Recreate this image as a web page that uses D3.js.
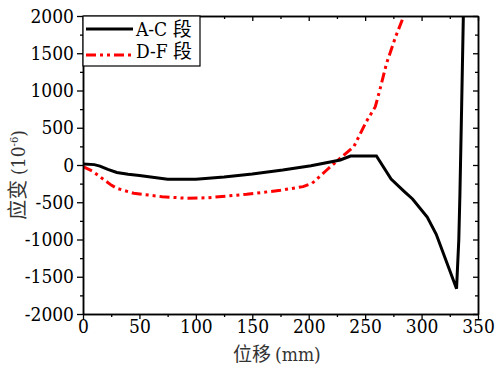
<!DOCTYPE html>
<html>
  <head>
  <meta charset="utf-8">
  <title>应变-位移</title>
  <style>
    body, html { margin: 0; padding: 0; background: #fff; }
  </style>
  </head>
  <body>

  <svg id="svg" width="503" height="371"></svg>

  <script src="https://d3js.org/d3.v7.min.js"></script>
  <script>
    // A-C 段 (black, solid)
    const acX = [0, 10, 15, 22, 30, 40, 50, 60, 75, 100, 125, 150, 177, 202, 228, 237, 260, 273, 285, 292, 305, 313, 331, 333, 334, 335.5, 337, 339]
    const acY = [15, 5, -15, -60, -100, -125, -140, -160, -190, -190, -160, -120, -67, -9, 67, 120, 120, -188, -360, -456, -700, -930, -1660, -1000, -380, 780, 1990, 2600]
    // D-F 段 (red, dash-dot-dot)
    const dfX = [0, 8, 15, 25, 30, 45, 70, 92, 110, 145, 175, 195, 203, 216, 226, 240, 251, 259, 263, 269, 277, 284, 290]
    const dfY = [-20, -80, -157, -270, -313, -380, -425, -447, -440, -393, -340, -290, -246, -67, 67, 246, 581, 782, 1007, 1365, 1722, 1990, 2300]

    const xTicks = [0, 50, 100, 150, 200, 250, 300, 350]
    const yTicks = [-2000, -1500, -1000, -500, 0, 500, 1000, 1500, 2000]
    const seriesNames = ['A-C 段', 'D-F 段']

    const serif = 'DejaVu Serif Condensed, DejaVu Serif, Noto Sans CJK SC'
    const cjk = 'Noto Sans CJK SC'

    const margin = { top: 16, right: 25, bottom: 57, left: 83 }
    const width = 503 - margin.left - margin.right
    const height = 371 - margin.top - margin.bottom

    const svg = d3.select('#svg')
    const g = svg.append('g').attr('transform', `translate(${margin.left}, ${margin.top})`)

    const x = d3.scaleLinear().domain([0, 350]).range([0, width])
    const y = d3.scaleLinear().domain([-2000, 2000]).range([height, 0])

    g.append('clipPath').attr('id', 'clip')
      .append('rect').attr('width', width).attr('height', height)

    const line = d3.line().x(d => x(d[0])).y(d => y(d[1]))

    const plot = g.append('g').attr('clip-path', 'url(#clip)')
    plot.append('path')
      .datum(dfX.map((v, i) => [v, dfY[i]]))
      .attr('d', line)
      .attr('fill', 'none')
      .attr('stroke', '#ff0000')
      .attr('stroke-width', 3)
      .attr('stroke-dasharray', '10,4,3,4,3,4')
    plot.append('path')
      .datum(acX.map((v, i) => [v, acY[i]]))
      .attr('d', line)
      .attr('fill', 'none')
      .attr('stroke', '#000')
      .attr('stroke-width', 3)

    // axes
    const minorX = d3.range(25, 350, 50)
    const minorY = d3.range(-1750, 2000, 500)
    const fmt = d => String(d)

    function styleAxis(sel) {
      sel.attr('font-family', serif).attr('font-size', 19).attr('font-stretch', 'condensed')
      sel.select('.domain').attr('stroke', '#000').attr('stroke-width', 1.5)
      sel.selectAll('.tick line').attr('stroke', '#000').attr('stroke-width', 1.3)
      sel.selectAll('text').attr('fill', '#000')
    }

    g.append('g').attr('transform', `translate(0, ${height})`)
      .call(d3.axisBottom(x).tickValues(xTicks).tickFormat(fmt).tickSize(5).tickPadding(1).tickSizeOuter(0))
      .call(styleAxis)
    g.append('g').attr('transform', `translate(0, ${height})`)
      .call(d3.axisBottom(x).tickValues(minorX).tickSize(3).tickFormat('').tickSizeOuter(0))
      .call(styleAxis)
    g.append('g')
      .call(d3.axisTop(x).tickValues(xTicks).tickSize(-5).tickFormat('').tickSizeOuter(0))
      .call(styleAxis)
    g.append('g')
      .call(d3.axisTop(x).tickValues(minorX).tickSize(-3).tickFormat('').tickSizeOuter(0))
      .call(styleAxis)

    g.append('g')
      .call(d3.axisLeft(y).tickValues(yTicks).tickFormat(fmt).tickSize(6).tickPadding(3).tickSizeOuter(0))
      .call(styleAxis)
    g.append('g')
      .call(d3.axisLeft(y).tickValues(minorY).tickSize(3).tickFormat('').tickSizeOuter(0))
      .call(styleAxis)
    g.append('g').attr('transform', `translate(${width}, 0)`)
      .call(d3.axisRight(y).tickValues(yTicks).tickSize(-5).tickFormat('').tickSizeOuter(0))
      .call(styleAxis)
    g.append('g').attr('transform', `translate(${width}, 0)`)
      .call(d3.axisRight(y).tickValues(minorY).tickSize(-3).tickFormat('').tickSizeOuter(0))
      .call(styleAxis)

    // axis titles
    const xl = svg.append('text')
      .attr('x', 233)
      .attr('y', 361)
      .attr('fill', '#333')
    xl.append('tspan').attr('font-family', cjk).attr('font-size', 19).text('位移')
    xl.append('tspan').attr('font-family', serif).attr('font-stretch', 'condensed')
      .attr('font-size', 19).attr('dx', 4).text('(mm)')

    const yl = svg.append('text')
      .attr('transform', 'translate(25, 175) rotate(-90)')
      .attr('text-anchor', 'middle')
      .attr('fill', '#333')
    yl.append('tspan').attr('font-family', cjk).attr('font-size', 20).text('应变')
    yl.append('tspan').attr('font-family', serif).attr('font-stretch', 'condensed')
      .attr('font-size', 19).attr('dx', 5).text('(10')
    yl.append('tspan').attr('font-family', serif).attr('dy', -7).attr('font-size', 11).text('-6')
    yl.append('tspan').attr('font-family', serif).attr('font-stretch', 'condensed')
      .attr('dy', 7).attr('font-size', 19).text(')')

    // legend
    const legend = g.append('g')
    legend.append('rect')
      .attr('x', 0).attr('y', 0).attr('width', 117).attr('height', 50)
      .attr('fill', '#fff').attr('stroke', '#000').attr('stroke-width', 1.2)
    const styles = [{ color: '#000', dash: null, ly: 13, ty: 20 }, { color: '#ff0000', dash: '10,4,3,4,3,4', ly: 39, ty: 42 }]
    seriesNames.forEach((name, i) => {
      const s = styles[i]
      legend.append('line')
        .attr('x1', 3).attr('x2', 50).attr('y1', s.ly).attr('y2', s.ly)
        .attr('stroke', s.color).attr('stroke-width', 3)
        .attr('stroke-dasharray', s.dash)
      legend.append('text')
        .attr('x', 53).attr('y', s.ty)
        .attr('font-family', serif)
        .attr('font-stretch', 'condensed')
        .attr('font-size', 19)
        .attr('fill', '#000')
        .text(name)
    })
  </script>
  </body>
</html>
